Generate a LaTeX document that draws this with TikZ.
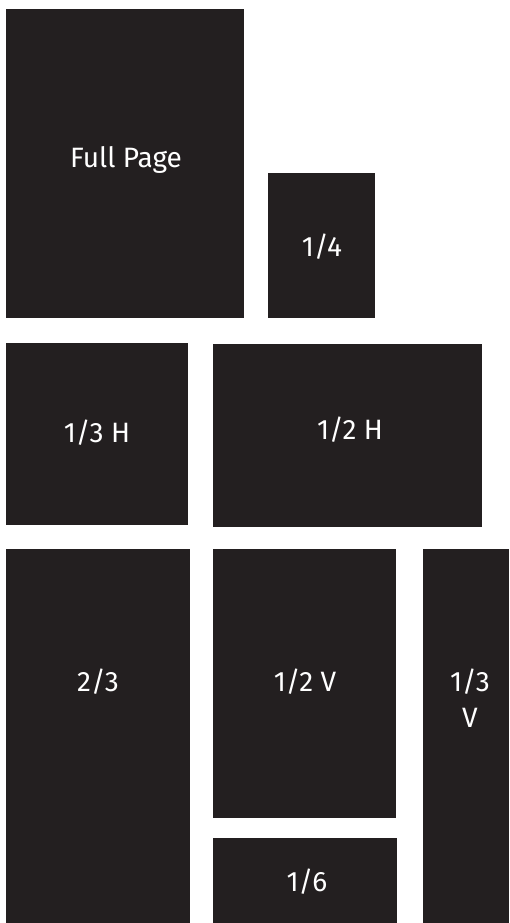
\documentclass[tikz,border=0pt]{standalone}
\usepackage{fontspec}
\setmainfont{Fira Sans}
\definecolor{boxfill}{HTML}{231F20}
\begin{document}
\begin{tikzpicture}[x=1pt,y=-1pt,
  adbox/.style={fill=boxfill,draw=none,inner sep=0pt},
  adlabel/.style={text=white,inner sep=0pt,anchor=base,
    font=\fontsize{28}{34}\selectfont}]
\useasboundingbox (0,0) rectangle (509,923);
\fill[white] (0,0) rectangle (509,923);
\newcommand{\adb}[5]{%
  \node[adbox,minimum width={(#4-#2)*1pt},minimum height={(#5-#3)*1pt}]
    (#1) at ({(#2+#4)/2},{(#3+#5)/2}) {};}
\newcommand{\adl}[4]{\node[adlabel] (#1) at (#2,#3+9.5) {#4};}
\adb{full}{6}{9}{244}{318}
\adb{quarter}{268}{173}{375}{318}
\adb{thirdh}{6}{343}{188}{525}
\adb{halfh}{213}{344}{482}{527}
\adb{twothirds}{6}{549}{190}{923}
\adb{halfv}{213}{549}{396}{818}
\adb{sixth}{213}{838}{397}{923}
\adb{thirdv}{423}{549}{509}{923}
\adl{fullL}{126}{158}{Full Page}
\adl{quarterL}{322}{247}{1/4}
\adl{thirdhL}{97}{433}{1/3 H}
\adl{halfhL}{350}{430}{1/2 H}
\adl{twothirdsL}{98}{682}{2/3}
\adl{halfvL}{305}{682}{1/2 V}
\adl{thirdvL}{470}{682}{1/3}
\adl{thirdvL2}{470}{718}{V}
\adl{sixthL}{307}{882}{1/6}
\end{tikzpicture}
\end{document}
